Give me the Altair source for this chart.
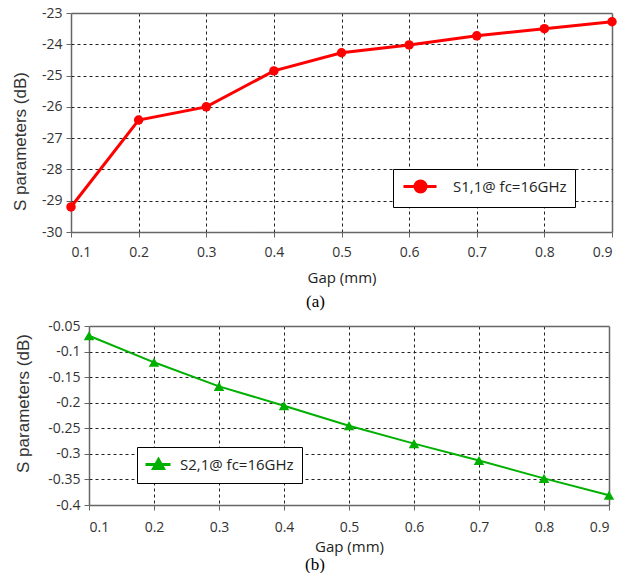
import altair as alt
import pandas as pd

# Gap sweep (mm) and simulated S-parameters at fc = 16 GHz
gap_mm = [0.1, 0.2, 0.3, 0.4, 0.5, 0.6, 0.7, 0.8, 0.9]
s11_db = [-29.2, -26.42, -26.0, -24.85, -24.27, -24.02, -23.73, -23.5, -23.28]
s21_db = [-0.069, -0.121, -0.168, -0.206, -0.245, -0.280, -0.313, -0.348, -0.381]

s11_label = "S1,1@ fc=16GHz"
s21_label = "S2,1@ fc=16GHz"

s11_ticks = [-30, -29, -28, -27, -26, -25, -24, -23]
s21_ticks = [-0.4, -0.35, -0.3, -0.25, -0.2, -0.15, -0.1, -0.05]

RED = "#ff0000"
GREEN = "#00b000"
FRAME = "#666666"
TICK_FONT = "Open Sans"
Y_TITLE_FONT = "Liberation Sans"
HYPHEN = "replace(datum.label, '\u2212', '-')"

# legend glyphs: a short line with the marker on it (unit = 8 px)
CIRCLE_GLYPH = "M-0.875,0H3.25M0.56,0A0.69,0.69,0,1,0,1.94,0A0.69,0.69,0,1,0,0.56,0Z"
TRIANGLE_GLYPH = "M-1.125,0H2M0.5,-0.62L1.12,0.5L-0.12,0.5Z"


def edge(test, edge_value, inner_value):
    return {"condition": {"test": test, "value": edge_value}, "value": inner_value}


def grid_style(lo, hi):
    # outermost grid lines form the solid plot frame, inner ones are dotted
    test = f"datum.value < {lo} || datum.value > {hi}"
    return dict(
        grid=True,
        gridDash=edge(test, [1, 0], [3, 3]),
        gridColor=edge(test, FRAME, "#222222"),
        gridWidth=edge(test, 1.5, 1),
    )


def x_axis(label_pad, title_pad):
    return alt.Axis(
        values=gap_mm, format=".1f", title="Gap (mm)",
        **grid_style(0.15, 0.85),
        domain=False, ticks=True, tickColor=FRAME, tickSize=5,
        labelFont=TICK_FONT, labelFontSize=14, labelColor="#333",
        labelPadding=label_pad,
        titleFont=TICK_FONT, titleFontSize=15, titleFontWeight="normal",
        titleColor="#222", titlePadding=title_pad,
    )


def y_axis(ticks, fmt, lo, hi, title_x, title_y, offset):
    return alt.Axis(
        values=ticks, format=fmt, labelExpr=HYPHEN, title="S parameters (dB)",
        **grid_style(lo, hi), offset=offset,
        domain=False, ticks=True, tickColor=FRAME, tickSize=5,
        labelFont=TICK_FONT, labelFontSize=14, labelColor="#333", labelPadding=4,
        titleFont=Y_TITLE_FONT, titleFontSize=17, titleFontWeight="normal",
        titleColor="#333", titleAngle=270, titleAlign="center",
        titleBaseline="alphabetic", titleX=title_x, titleY=title_y,
    )


def legend(x, y, glyph, color, label_offset):
    return alt.Legend(
        title=None, orient="none", legendX=x, legendY=y,
        strokeColor="black", fillColor="white", padding=8,
        symbolType=glyph, symbolSize=256, symbolStrokeWidth=3,
        symbolFillColor=color, symbolStrokeColor=color,
        labelFont=TICK_FONT, labelFontSize=15, labelColor="#222",
        labelOffset=label_offset, labelLimit=300,
    )


def caption(text, dx, offset):
    return alt.TitleParams(
        text, orient="bottom", anchor="middle", frame="group",
        font="Liberation Serif", fontSize=17, fontWeight="normal",
        color="black", dx=dx, offset=offset,
    )


s11_df = pd.DataFrame({"gap": gap_mm, "s": s11_db, "series": s11_label})
s21_df = pd.DataFrame({"gap": gap_mm, "s": s21_db, "series": s21_label})

# (a) return loss
s11_base = alt.Chart(s11_df).encode(
    x=alt.X("gap:Q", scale=alt.Scale(domain=[0.1, 0.9], nice=False, zero=False),
            axis=x_axis(8, 11)),
    y=alt.Y("s:Q", scale=alt.Scale(domain=[-30, -23], nice=False, zero=False),
            axis=y_axis(s11_ticks, "d", -29.5, -23.5, -46, 128, 0)),
    color=alt.Color("series:N", scale=alt.Scale(range=[RED]),
                    legend=legend(322, 156, CIRCLE_GLYPH, RED, 33)),
)
s11_chart = alt.layer(
    s11_base.mark_line(strokeWidth=3),
    s11_base.mark_point(shape="circle", filled=True, size=90, opacity=1),
).properties(width=541, height=219, title=caption("(a)", -26, 9))

# (b) insertion loss; plot area is inset 18 px from the panel's left edge
INSET = 18
S21_WIDTH = 538
s21_base = alt.Chart(s21_df).encode(
    x=alt.X("gap:Q",
            scale=alt.Scale(domain=[0.1, 0.9], range=[INSET, S21_WIDTH], nice=False, zero=False),
            axis=x_axis(10, 5)),
    y=alt.Y("s:Q", scale=alt.Scale(domain=[-0.4, -0.05], nice=False, zero=False),
            axis=y_axis(s21_ticks, ".2~f", -0.375, -0.075, -61, 77, -INSET)),
    color=alt.Color("series:N", scale=alt.Scale(range=[GREEN]),
                    legend=legend(66, 121, TRIANGLE_GLYPH, GREEN, 16)),
)
s21_chart = alt.layer(
    s21_base.mark_line(strokeWidth=2),
    s21_base.mark_point(shape="triangle-up", filled=True, size=110, opacity=1),
).properties(width=S21_WIDTH, height=179, title=caption("(b)", -25, 3))

chart = alt.concat(
    s11_chart, s21_chart, columns=1, spacing=9,
).resolve_scale(
    x="independent", y="independent", color="independent",
).properties(
    padding={"left": 11, "top": 6, "right": 0, "bottom": 0},
).configure_view(
    strokeWidth=0,
)

chart.save("out.html", embed_options={"renderer": "svg", "actions": False})
